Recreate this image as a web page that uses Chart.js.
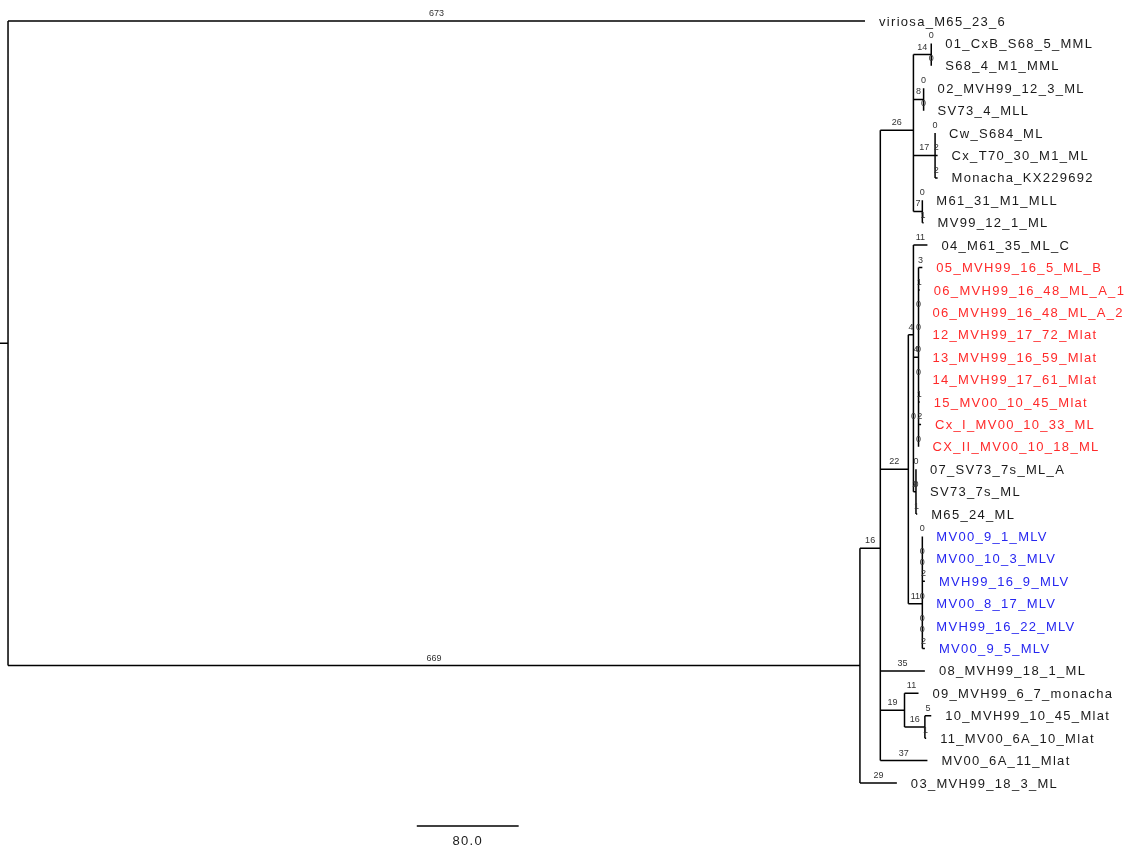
<!DOCTYPE html>
<html>
<head>
<meta charset="utf-8">
<script src="https://cdn.jsdelivr.net/npm/chart.js@4.4.1/dist/chart.umd.min.js"></script>
<style>
html, body { margin: 0; padding: 0; background: #fff; }
#wrap { width: 1135px; height: 852px; }
</style>
</head>
<body>
<div id="wrap"><canvas id="tree_chart"></canvas></div>
<script>

// leaves, top to bottom, with the node they hang from and their branch length
const leafNames = [
    'viriosa_M65_23_6', '01_CxB_S68_5_MML', 'S68_4_M1_MML', '02_MVH99_12_3_ML', 'SV73_4_MLL',
    'Cw_S684_ML', 'Cx_T70_30_M1_ML', 'Monacha_KX229692', 'M61_31_M1_MLL', 'MV99_12_1_ML',
    '04_M61_35_ML_C', '05_MVH99_16_5_ML_B', '06_MVH99_16_48_ML_A_1', '06_MVH99_16_48_ML_A_2',
    '12_MVH99_17_72_Mlat', '13_MVH99_16_59_Mlat', '14_MVH99_17_61_Mlat', '15_MV00_10_45_Mlat',
    'Cx_I_MV00_10_33_ML', 'CX_II_MV00_10_18_ML', '07_SV73_7s_ML_A', 'SV73_7s_ML', 'M65_24_ML',
    'MV00_9_1_MLV', 'MV00_10_3_MLV', 'MVH99_16_9_MLV', 'MV00_8_17_MLV', 'MVH99_16_22_MLV',
    'MV00_9_5_MLV', '08_MVH99_18_1_ML', '09_MVH99_6_7_monacha', '10_MVH99_10_45_Mlat',
    '11_MV00_6A_10_Mlat', 'MV00_6A_11_Mlat', '03_MVH99_18_3_ML'
];
const leafParents = [
    'root', 'c14', 'c14', 'c8', 'c8', 'c17', 'c17', 'c17', 'c7', 'c7',
    'c4', 'cRed', 'cRed', 'cRed', 'cRed', 'cRed', 'cRed', 'cRed', 'cRed', 'cRed',
    'cBlk', 'cBlk', 'cBlk', 'cABCD', 'cABCD', 'cABCD', 'cABCD', 'cEF', 'cEF',
    'B', 'c19', 'c16', 'c16', 'B', 'A'
];
const leafLengths = [
    673, 0, 0, 0, 0, 0, 2, 2, 0, 1,
    11, 3, 1, 0, 0, 0, 0, 1, 2, 0,
    0, 0, 1, 0, 0, 2, 0, 0, 2,
    35, 11, 5, 1, 37, 29
];
const leafGroups = [
    'k', 'k', 'k', 'k', 'k', 'k', 'k', 'k', 'k', 'k',
    'k', 'r', 'r', 'r', 'r', 'r', 'r', 'r', 'r', 'r',
    'k', 'k', 'k', 'b', 'b', 'b', 'b', 'b', 'b',
    'k', 'k', 'k', 'k', 'k', 'k'
];

// internal nodes
const nodeNames   = ['root', 'A', 'B', 'c26', 'c14', 'c8', 'c17', 'c7', 'c22', 'c4', 'cR', 'cRed', 'cBlk', 'cMLV', 'cABCD', 'cEF', 'c19', 'c16'];
const nodeParents = [null, 'root', 'A', 'B', 'c26', 'c26', 'c26', 'c26', 'B', 'c22', 'c4', 'cR', 'cR', 'c22', 'cMLV', 'cMLV', 'B', 'c19'];
const nodeLengths = [0, 669, 16, 26, 14, 8, 17, 7, 22, 4, 0, 4, 2, 11, 0, 0, 19, 16];

const scaleBarValue = 80.0;
const scaleBarStart = 321;

const groupColours = { k: '#1a1a1a', r: '#ff2a2a', b: '#2626f0' };


function layout_tree() {
    var nodes = {};
    for (var i = 0; i < nodeNames.length; i++) {
        nodes[nodeNames[i]] = { name: nodeNames[i], parent: nodeParents[i], len: nodeLengths[i], children: [], leaf: false };
    }
    for (var i = 0; i < leafNames.length; i++) {
        nodes['leaf_' + i] = { name: leafNames[i], parent: leafParents[i], len: leafLengths[i], children: [], leaf: true, y: i, group: leafGroups[i] };
    }
    for (var k in nodes) {
        if (nodes[k].parent) nodes[nodes[k].parent].children.push(nodes[k]);
    }

    function set_x(n, x) {
        n.x = x;
        for (var c of n.children) set_x(c, x + c.len);
    }
    function set_y(n) {
        if (n.leaf) return n.y;
        var s = 0;
        for (var c of n.children) s += set_y(c);
        n.y = s / n.children.length;
        return n.y;
    }
    set_x(nodes.root, 0);
    set_y(nodes.root);
    return nodes;
}


function init_tree_chart() {

    var nodes = layout_tree();
    var segs = [];

    for (var k in nodes) {
        var n = nodes[k];
        if (n.parent) {
            var p = nodes[n.parent];
            segs.push({ x: p.x, y: n.y }, { x: n.x, y: n.y }, { x: n.x, y: null });
        }
        if (!n.leaf) {
            var ys = n.children.map(c => c.y);
            segs.push({ x: n.x, y: Math.min(...ys) }, { x: n.x, y: Math.max(...ys) }, { x: n.x, y: null });
        }
    }
    // root stub
    segs.push({ x: -6.3, y: nodes.root.y }, { x: 0, y: nodes.root.y }, { x: 0, y: null });

    var barY = 35.92;
    var bar = [{ x: scaleBarStart, y: barY }, { x: scaleBarStart + scaleBarValue, y: barY }];

    const tree_labels = {
        id: 'tree_labels',
        afterDatasetsDraw(chart) {
            const ctx = chart.ctx;
            const xs = chart.scales.x;
            const ys = chart.scales.y;
            ctx.save();

            // branch lengths
            ctx.font = '9px "Liberation Sans", Arial, sans-serif';
            ctx.fillStyle = '#333';
            ctx.textAlign = 'center';
            ctx.textBaseline = 'alphabetic';
            for (var k in nodes) {
                var n = nodes[k];
                if (!n.parent) continue;
                var p = nodes[n.parent];
                var xm = (xs.getPixelForValue(p.x) + xs.getPixelForValue(n.x)) / 2;
                ctx.fillText(String(Math.round(n.len)), xm, ys.getPixelForValue(n.y) - 5);
            }

            // leaf names
            ctx.font = '13px "Liberation Sans", Arial, sans-serif';
            ctx.letterSpacing = '1.3px';
            ctx.textAlign = 'left';
            ctx.textBaseline = 'middle';
            for (var k in nodes) {
                var n = nodes[k];
                if (!n.leaf) continue;
                ctx.fillStyle = groupColours[n.group];
                ctx.fillText(n.name, xs.getPixelForValue(n.x) + 14, ys.getPixelForValue(n.y) + 1);
            }

            // scale bar text
            ctx.fillStyle = '#1a1a1a';
            ctx.textAlign = 'center';
            ctx.fillText(scaleBarValue.toFixed(1), xs.getPixelForValue(scaleBarStart + scaleBarValue / 2), ys.getPixelForValue(barY) + 15);
            ctx.restore();
        }
    };

    var tree_chart_elem = document.getElementById('tree_chart').getContext('2d');

    const tree_config = {
        type: 'line',
        data: {
            datasets: [{
                label: 'branches',
                data: segs,
                borderColor: '#000',
                borderWidth: 1.5,
                pointRadius: 0,
                spanGaps: false,
                tension: 0
            }, {
                label: 'scale',
                data: bar,
                borderColor: '#000',
                borderWidth: 1.5,
                pointRadius: 0
            }]
        },
        options: {
            responsive: true,
            maintainAspectRatio: false,
            animation: false,
            layout: { padding: 0 },
            scales: {
                x: { type: 'linear', min: -6.3, max: 885, display: false },
                y: { type: 'linear', min: -0.937, max: 37.08, reverse: true, display: false }
            },
            plugins: {
                legend: { display: false },
                tooltip: { enabled: false }
            }
        },
        plugins: [tree_labels]
    };

    return new Chart(tree_chart_elem, tree_config);
}

init_tree_chart();

</script>
</body>
</html>
